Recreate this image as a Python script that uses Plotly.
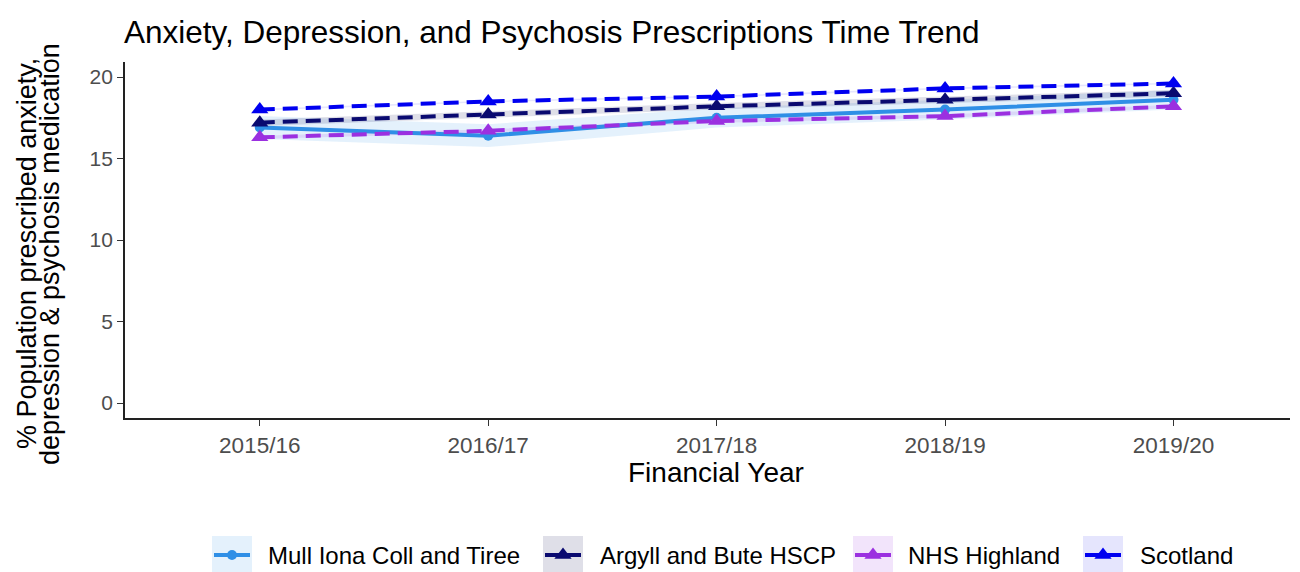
import plotly.graph_objects as go

years = ["2015/16", "2016/17", "2017/18", "2018/19", "2019/20"]

mull = [16.9, 16.4, 17.5, 18.0, 18.6]
mull_lo = [16.2, 15.7, 16.9, 17.4, 18.0]
mull_hi = [17.6, 17.1, 18.1, 18.6, 19.2]

argyll = [17.2, 17.7, 18.2, 18.6, 19.0]
argyll_lo = [17.0, 17.5, 18.0, 18.4, 18.8]
argyll_hi = [17.4, 17.9, 18.4, 18.8, 19.2]

highland = [16.3, 16.7, 17.3, 17.6, 18.2]
highland_lo = [16.2, 16.6, 17.2, 17.5, 18.1]
highland_hi = [16.4, 16.8, 17.4, 17.7, 18.3]

scotland = [18.0, 18.5, 18.8, 19.3, 19.6]
scotland_lo = [17.95, 18.45, 18.75, 19.25, 19.55]
scotland_hi = [18.05, 18.55, 18.85, 19.35, 19.65]

series = [
    ("Mull Iona Coll and Tiree", mull, mull_lo, mull_hi, "#2F8FE6", "rgba(47,143,230,0.13)", "solid", "circle"),
    ("Argyll and Bute HSCP", argyll, argyll_lo, argyll_hi, "#0A0A70", "rgba(10,10,80,0.13)", "15px,8px", "triangle-up"),
    ("NHS Highland", highland, highland_lo, highland_hi, "#9B30E0", "rgba(155,48,224,0.13)", "15px,8px", "triangle-up"),
    ("Scotland", scotland, scotland_lo, scotland_hi, "#0000F0", "rgba(0,0,240,0.10)", "15px,8px", "triangle-up"),
]

# page body has an 8px margin, so the figure sits at (8, 8) in the window
OFF = 8
W, H = 1300 - OFF, 572 - OFF


def px(x):
    return (x - OFF) / W


def py(y):
    return 1 - (y - OFF) / H


# plot area in window pixels (left, right, top, bottom)
PL, PR, PT, PB = 125, 1290, 62, 418
# legend key centres and text starts, window pixels
key_x = [232, 563, 873, 1103]
text_x = [266, 598, 906, 1138]
key_y = 555

x_idx = list(range(len(years)))
fig = go.Figure()

# ribbons first so lines sit on top
for name, vals, lo, hi, col, fillc, dash, sym in series:
    fig.add_trace(go.Scatter(
        x=x_idx + x_idx[::-1], y=hi + lo[::-1], fill="toself", fillcolor=fillc,
        line=dict(width=0), mode="lines", hoverinfo="skip", showlegend=False))

for name, vals, lo, hi, col, fillc, dash, sym in series:
    fig.add_trace(go.Scatter(
        x=x_idx, y=vals, mode="lines+markers", name=name, showlegend=False,
        line=dict(color=col, width=4, dash=dash),
        marker=dict(color=col, size=15 if sym != "circle" else 10, symbol=sym)))

# hand-built legend on a pixel-space overlay axis (window pixel coords)
shapes = []
annotations = []
for (name, vals, lo, hi, col, fillc, dash, sym), kx, tx in zip(series, key_x, text_x):
    shapes.append(dict(type="rect", xref="x2", yref="y2", x0=kx - 20, x1=kx + 20,
                       y0=key_y - 19, y1=key_y + 19, fillcolor=fillc, line=dict(width=0), layer="below"))
    shapes.append(dict(type="line", xref="x2", yref="y2", x0=kx - 18, x1=kx + 18,
                       y0=key_y, y1=key_y, line=dict(color=col, width=4)))
    fig.add_trace(go.Scatter(
        x=[kx], y=[key_y], xaxis="x2", yaxis="y2", mode="markers", showlegend=False, hoverinfo="skip",
        marker=dict(color=col, size=15 if sym != "circle" else 10, symbol=sym)))
    annotations.append(dict(text=name, xref="x2", yref="y2", x=tx, y=key_y, xanchor="left",
                            yanchor="middle", showarrow=False, font=dict(size=24, color="black")))

for txt, xc in [("% Population prescribed anxiety,", 27), ("depression & psychosis medication", 50)]:
    annotations.append(dict(text=txt, xref="paper", yref="paper", x=px(xc), y=py(254), textangle=-90,
                            xanchor="center", yanchor="middle", showarrow=False,
                            font=dict(size=27, color="black")))
annotations.append(dict(text="Financial Year", xref="paper", yref="paper", x=px(716), y=py(472),
                        xanchor="center", yanchor="middle", showarrow=False,
                        font=dict(size=28, color="black")))
annotations.append(dict(text="Anxiety, Depression, and Psychosis Prescriptions Time Trend",
                        xref="paper", yref="paper", x=px(122), y=py(32),
                        xanchor="left", yanchor="middle", showarrow=False,
                        font=dict(size=31.5, color="black")))

fig.update_layout(
    width=W, height=H,
    paper_bgcolor="white", plot_bgcolor="rgba(0,0,0,0)",
    font=dict(family="Liberation Sans, Arial, sans-serif", color="black"),
    margin=dict(l=0, r=0, t=0, b=0),
    showlegend=False,
    shapes=shapes, annotations=annotations,
    xaxis=dict(domain=[px(PL), px(PR)], anchor="y",
               tickvals=x_idx, ticktext=years, range=[-0.59, 4.51],
               showline=True, linecolor="#222", linewidth=1.8, ticks="outside", ticklen=6,
               tickcolor="#333", tickfont=dict(size=22.5, color="#4D4D4D"), showgrid=False,
               zeroline=False, automargin=False),
    yaxis=dict(domain=[py(PB), py(PT)], anchor="x",
               tickvals=[0, 5, 10, 15, 20], range=[-0.92, 20.92],
               showline=True, linecolor="#222", linewidth=1.8, ticks="outside", ticklen=6,
               tickcolor="#333", tickfont=dict(size=21, color="#4D4D4D"), showgrid=False,
               zeroline=False, automargin=False),
    xaxis2=dict(domain=[0, 1], anchor="y2", range=[OFF, OFF + W], visible=False, fixedrange=True),
    yaxis2=dict(domain=[0, 1], anchor="x2", range=[OFF + H, OFF], visible=False, fixedrange=True),
)

fig.write_html("out.html")
